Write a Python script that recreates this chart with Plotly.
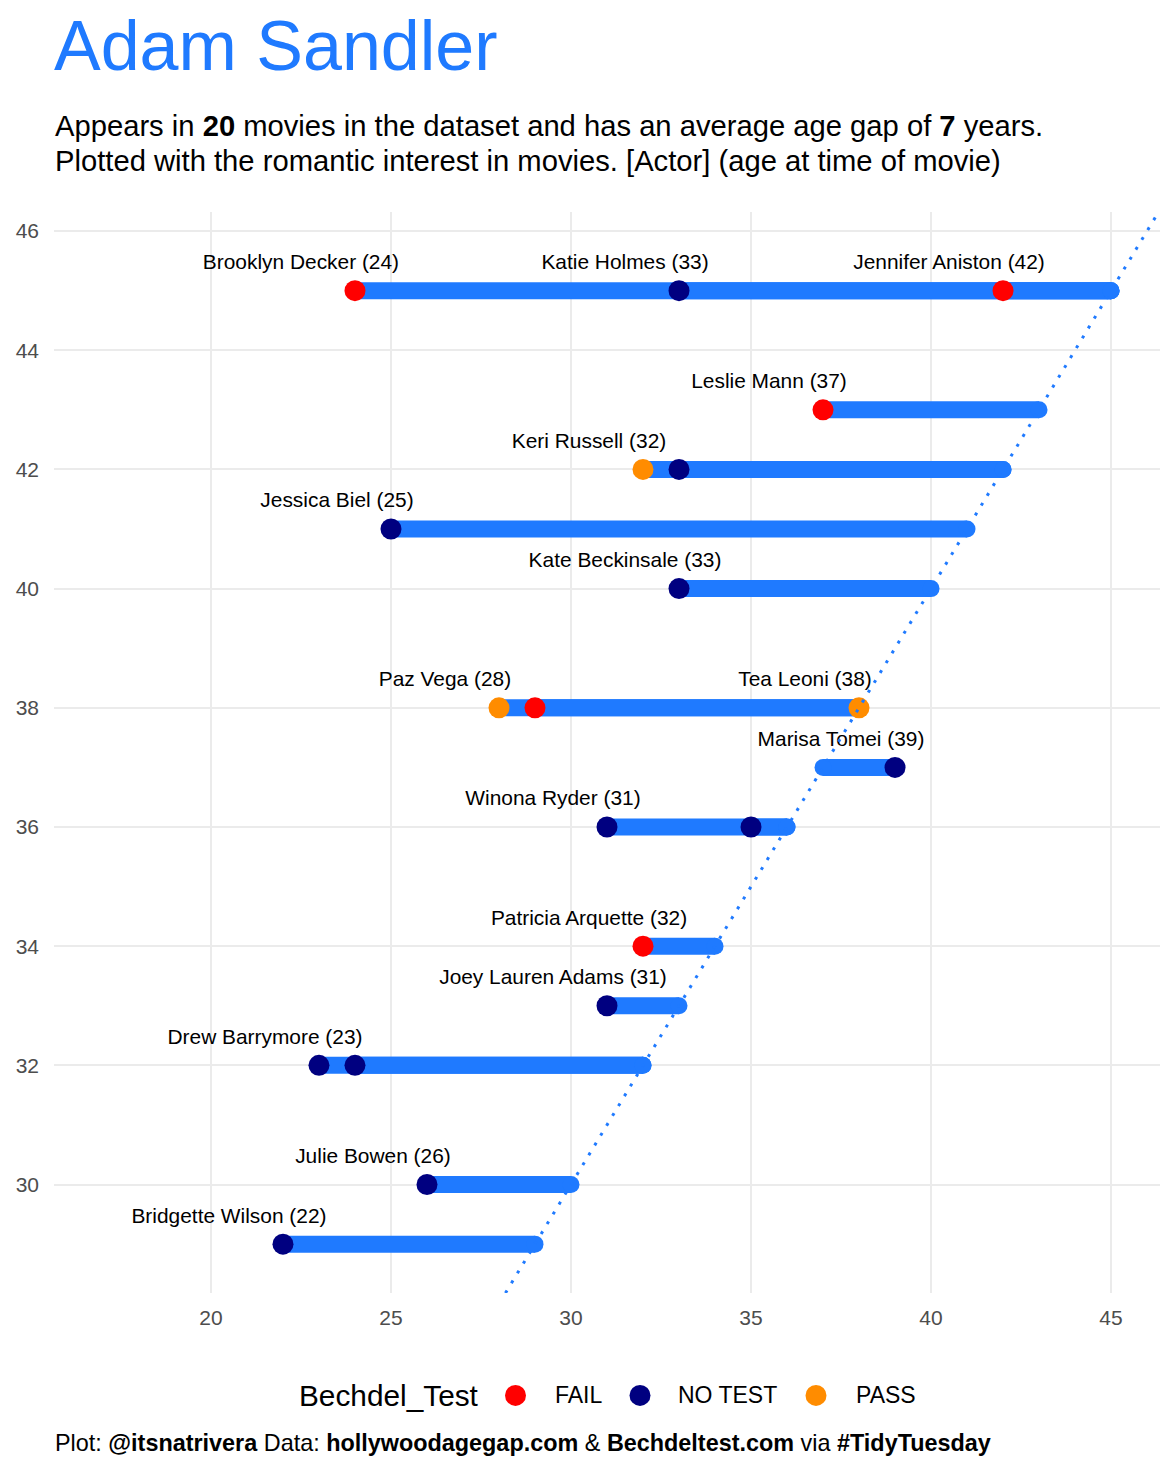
import plotly.graph_objects as go

# ---------------- data ----------------
actor_name = "Adam Sandler"
actor_age = [45, 45, 45, 43, 42, 42, 41, 40, 38, 38, 38, 37, 36, 36, 34, 33, 32, 32, 30, 29]
partner_age = [24, 33, 42, 37, 32, 33, 25, 33, 28, 29, 38, 39, 31, 35, 32, 31, 23, 24, 26, 22]
partner_name = ["Brooklyn Decker", "Katie Holmes", "Jennifer Aniston", "Leslie Mann",
                "Keri Russell", "Emmanuelle Chriqui", "Jessica Biel", "Kate Beckinsale",
                "Paz Vega", "Drew Barrymore", "Tea Leoni", "Marisa Tomei", "Winona Ryder",
                "Emily Watson", "Patricia Arquette", "Joey Lauren Adams", "Drew Barrymore",
                "Fairuza Balk", "Julie Bowen", "Bridgette Wilson"]
bechdel = ["FAIL", "NO TEST", "FAIL", "FAIL", "PASS", "NO TEST", "NO TEST", "NO TEST",
           "PASS", "FAIL", "PASS", "NO TEST", "NO TEST", "NO TEST", "FAIL", "NO TEST",
           "NO TEST", "NO TEST", "NO TEST", "NO TEST"]
label_shown = [True, True, True, True, True, False, True, True, True, False, True, True,
               True, False, True, True, True, False, True, True]
n_movies = 20
avg_gap = 7
categories = ["FAIL", "NO TEST", "PASS"]
legend_title = "Bechdel_Test"
x_ticks = [20, 25, 30, 35, 40, 45]
y_ticks = [30, 32, 34, 36, 38, 40, 42, 44, 46]
subtitle_lines = [
    f"Appears in <b>{n_movies}</b> movies in the dataset and has an average age gap of "
    f"<b>{avg_gap}</b> years.",
    "Plotted with the romantic interest in movies. [Actor] (age at time of movie)",
]
caption = ("Plot: <b>@itsnatrivera</b> Data: <b>hollywoodagegap.com</b> &amp; "
           "<b>Bechdeltest.com</b> via <b>#TidyTuesday</b>")

# ---------------- style ----------------
BLUE = "#1F7AFF"
CAT_COLORS = {"FAIL": "#FF0000", "NO TEST": "#000080", "PASS": "#FF8C00"}
FONT = "Liberation Sans, Arial, Helvetica, sans-serif"
X_RANGE = [15.64, 46.36]
Y_RANGE = [28.18, 46.32]
W, H = 1168, 1462          # page adds an 8px body margin
ML, MR, MT, MB = 46, 16, 204, 176.5
PW = W - ML - MR           # plot width in px
PH = H - MT - MB           # plot height in px
OFF = 8                    # body margin offset
TEXT_LEFT = 53


def px_to_paper_x(page_x):
    return (page_x - OFF - ML) / PW


def px_to_paper_y(page_y):
    return (H - MB + OFF - page_y) / PH


fig = go.Figure()

# segments: partner age -> actor age at actor age row
seg_x, seg_y = [], []
for a, p in zip(actor_age, partner_age):
    seg_x += [p, a, None]
    seg_y += [a, a, None]
fig.add_trace(go.Scatter(x=seg_x, y=seg_y, mode="lines",
                         line=dict(color=BLUE, width=17), showlegend=False,
                         hoverinfo="skip"))
# round caps at the actor end
fig.add_trace(go.Scatter(x=actor_age, y=actor_age, mode="markers",
                         marker=dict(color=BLUE, size=17, line=dict(width=0)),
                         showlegend=False, hoverinfo="skip"))

# partner points by Bechdel test
for cat in categories:
    xs = [p for p, b in zip(partner_age, bechdel) if b == cat]
    ys = [a for a, b in zip(actor_age, bechdel) if b == cat]
    fig.add_trace(go.Scatter(x=xs, y=ys, mode="markers", name=cat, showlegend=False,
                             marker=dict(color=CAT_COLORS[cat], size=21, line=dict(width=0))))

# labels
lx = [p - 1.5 for p, s in zip(partner_age, label_shown) if s]
ly = [a + 0.45 for a, s in zip(actor_age, label_shown) if s]
lt = [f"{nm} ({p})" for nm, p, s in zip(partner_name, partner_age, label_shown) if s]
fig.add_trace(go.Scatter(x=lx, y=ly, text=lt, mode="text", textposition="middle center",
                         textfont=dict(family=FONT, size=20.9, color="black"),
                         showlegend=False, hoverinfo="skip"))

# y = x reference line across the panel
lo = max(X_RANGE[0], Y_RANGE[0])
hi = min(X_RANGE[1], Y_RANGE[1])
fig.add_trace(go.Scatter(x=[lo, hi], y=[lo, hi], mode="lines",
                         line=dict(color=BLUE, width=3, dash="3px,8.5px"),
                         showlegend=False, hoverinfo="skip"))

axis_common = dict(showgrid=True, gridcolor="#EBEBEB", gridwidth=2, zeroline=False,
                   showline=False, ticks="", tickfont=dict(family=FONT, size=21, color="#4D4D4D"))

fig.update_layout(
    width=W, height=H,
    margin=dict(l=ML, r=MR, t=MT, b=MB, autoexpand=False),
    paper_bgcolor="white", plot_bgcolor="white",
    font=dict(family=FONT, color="black"),
    xaxis=dict(range=X_RANGE, tickvals=x_ticks, ticklabelstandoff=10, **axis_common),
    yaxis=dict(range=Y_RANGE, tickvals=y_ticks, ticklabelstandoff=14, **axis_common),
    showlegend=False,
)

# ---------- manual legend (ggplot-style, bottom) ----------
LEG_Y = 1396
LEG_TITLE_X = 298
LEG_MARKER_X = [515.5, 640, 816]
LEG_TEXT_X = [554, 677, 855]
R = 10.5
fig.add_annotation(text=legend_title, xref="paper", yref="paper",
                   x=px_to_paper_x(LEG_TITLE_X - 1), y=px_to_paper_y(LEG_Y),
                   xanchor="left", yanchor="middle", showarrow=False,
                   font=dict(family=FONT, size=29.8, color="black"))
for cat, mx, tx in zip(categories, LEG_MARKER_X, LEG_TEXT_X):
    fig.add_shape(type="circle", xref="paper", yref="paper",
                  x0=px_to_paper_x(mx - R), x1=px_to_paper_x(mx + R),
                  y0=px_to_paper_y(LEG_Y + R), y1=px_to_paper_y(LEG_Y - R),
                  fillcolor=CAT_COLORS[cat], line=dict(width=0), layer="above")
    fig.add_annotation(text=cat, xref="paper", yref="paper",
                       x=px_to_paper_x(tx - 1), y=px_to_paper_y(LEG_Y),
                       xanchor="left", yanchor="middle", showarrow=False,
                       font=dict(family=FONT, size=23, color="black"))

# ---------- titles & caption ----------
fig.add_annotation(text=actor_name, xref="paper", yref="paper",
                   x=px_to_paper_x(TEXT_LEFT), y=px_to_paper_y(46),
                   xanchor="left", yanchor="middle", showarrow=False, borderpad=0,
                   font=dict(family=FONT, size=70, color=BLUE))
for line_text, cy in zip(subtitle_lines, [126, 161]):
    fig.add_annotation(text=line_text, xref="paper", yref="paper",
                       x=px_to_paper_x(TEXT_LEFT), y=px_to_paper_y(cy),
                       xanchor="left", yanchor="middle", align="left", showarrow=False,
                       font=dict(family=FONT, size=29.2, color="black"))
fig.add_annotation(text=caption, xref="paper", yref="paper",
                   x=px_to_paper_x(TEXT_LEFT), y=px_to_paper_y(1444),
                   xanchor="left", yanchor="middle",
                   align="left", showarrow=False, font=dict(family=FONT, size=23.4, color="black"))

fig.write_html("out.html")
